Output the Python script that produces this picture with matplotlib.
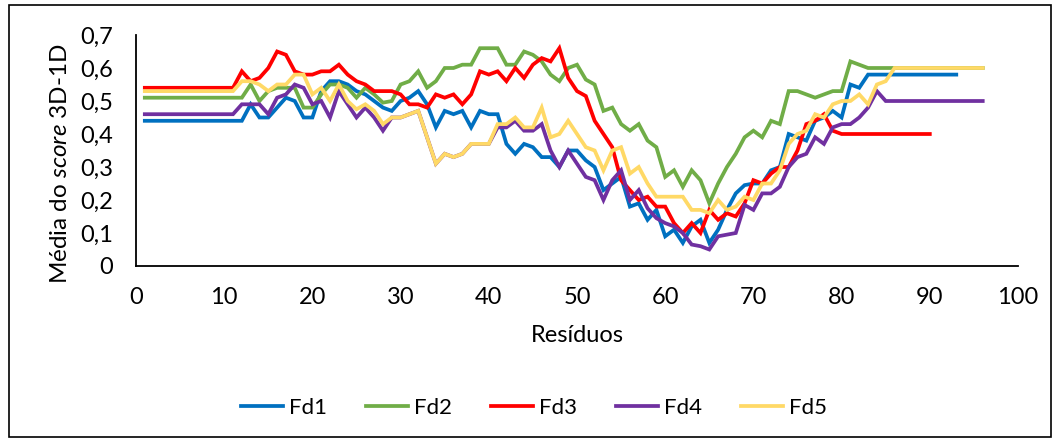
import numpy as np
import matplotlib
matplotlib.use("Agg")
import matplotlib.pyplot as plt
from matplotlib.patches import Rectangle

plt.rcParams['font.family'] = ['Lato', 'DejaVu Sans']
plt.rcParams['mathtext.fontset'] = 'custom'
plt.rcParams['mathtext.rm'] = 'Lato'
plt.rcParams['mathtext.it'] = 'Lato:italic'

# média do score 3D-1D por resíduo (resíduo 1 em diante)
fd1 = [0.44, 0.44, 0.44, 0.44, 0.44, 0.44, 0.44, 0.44, 0.44, 0.44,
       0.44, 0.44, 0.49, 0.45, 0.45, 0.48, 0.51, 0.50, 0.45, 0.45,
       0.53, 0.56, 0.56, 0.55, 0.53, 0.52, 0.50, 0.48, 0.47, 0.50,
       0.51, 0.53, 0.49, 0.42, 0.47, 0.46, 0.47, 0.42, 0.47, 0.46,
       0.46, 0.37, 0.34, 0.37, 0.36, 0.33, 0.33, 0.30, 0.35, 0.35,
       0.32, 0.30, 0.23, 0.25, 0.27, 0.18, 0.19, 0.14, 0.17, 0.09,
       0.11, 0.07, 0.12, 0.14, 0.07, 0.11, 0.17, 0.22, 0.245, 0.25,
       0.25, 0.29, 0.30, 0.40, 0.39, 0.38, 0.44, 0.45, 0.47, 0.45,
       0.55, 0.54, 0.58, 0.58, 0.58, 0.58, 0.58, 0.58, 0.58, 0.58,
       0.58, 0.58, 0.58]

fd2 = [0.51, 0.51, 0.51, 0.51, 0.51, 0.51, 0.51, 0.51, 0.51, 0.51,
       0.51, 0.51, 0.55, 0.50, 0.53, 0.54, 0.54, 0.54, 0.48, 0.48,
       0.52, 0.55, 0.55, 0.54, 0.51, 0.54, 0.52, 0.495, 0.50, 0.55,
       0.56, 0.59, 0.54, 0.56, 0.60, 0.60, 0.61, 0.61, 0.66, 0.66,
       0.66, 0.61, 0.61, 0.65, 0.64, 0.62, 0.58, 0.56, 0.60, 0.61,
       0.565, 0.55, 0.47, 0.48, 0.43, 0.41, 0.43, 0.38, 0.36, 0.27,
       0.29, 0.24, 0.29, 0.26, 0.19, 0.25, 0.30, 0.34, 0.39, 0.41,
       0.39, 0.44, 0.43, 0.53, 0.53, 0.52, 0.51, 0.52, 0.53, 0.53,
       0.62, 0.61, 0.60, 0.60, 0.60, 0.60, 0.60, 0.60, 0.60, 0.60,
       0.60, 0.60, 0.60, 0.60, 0.60, 0.60]

fd3 = [0.54, 0.54, 0.54, 0.54, 0.54, 0.54, 0.54, 0.54, 0.54, 0.54,
       0.54, 0.59, 0.56, 0.57, 0.60, 0.65, 0.64, 0.59, 0.58, 0.58,
       0.59, 0.59, 0.61, 0.58, 0.56, 0.55, 0.53, 0.53, 0.53, 0.52,
       0.49, 0.49, 0.48, 0.52, 0.51, 0.52, 0.49, 0.52, 0.59, 0.58,
       0.59, 0.56, 0.60, 0.57, 0.61, 0.63, 0.62, 0.66, 0.57, 0.53,
       0.515, 0.44, 0.40, 0.36, 0.26, 0.23, 0.20, 0.21, 0.18, 0.18,
       0.13, 0.10, 0.13, 0.10, 0.17, 0.14, 0.16, 0.15, 0.19, 0.26,
       0.25, 0.28, 0.30, 0.30, 0.35, 0.43, 0.44, 0.46, 0.41, 0.40,
       0.40, 0.40, 0.40, 0.40, 0.40, 0.40, 0.40, 0.40, 0.40, 0.40]

fd4 = [0.46, 0.46, 0.46, 0.46, 0.46, 0.46, 0.46, 0.46, 0.46, 0.46,
       0.46, 0.49, 0.49, 0.49, 0.46, 0.51, 0.52, 0.55, 0.54, 0.49,
       0.50, 0.45, 0.53, 0.49, 0.45, 0.48, 0.45, 0.41, 0.45, 0.45,
       0.46, 0.47, 0.39, 0.31, 0.34, 0.33, 0.34, 0.37, 0.37, 0.37,
       0.42, 0.42, 0.44, 0.41, 0.41, 0.43, 0.35, 0.30, 0.35, 0.31,
       0.27, 0.26, 0.20, 0.26, 0.29, 0.20, 0.23, 0.175, 0.145, 0.13,
       0.12, 0.10, 0.065, 0.06, 0.05, 0.09, 0.095, 0.10, 0.185, 0.17,
       0.22, 0.22, 0.24, 0.30, 0.33, 0.34, 0.39, 0.37, 0.42, 0.43,
       0.43, 0.45, 0.48, 0.53, 0.50, 0.50, 0.50, 0.50, 0.50, 0.50,
       0.50, 0.50, 0.50, 0.50, 0.50, 0.50]

fd5 = [0.53, 0.53, 0.53, 0.53, 0.53, 0.53, 0.53, 0.53, 0.53, 0.53,
       0.53, 0.56, 0.56, 0.55, 0.53, 0.55, 0.55, 0.58, 0.58, 0.52,
       0.54, 0.50, 0.55, 0.50, 0.475, 0.49, 0.47, 0.43, 0.45, 0.45,
       0.46, 0.47, 0.39, 0.31, 0.34, 0.33, 0.34, 0.37, 0.37, 0.37,
       0.43, 0.43, 0.45, 0.42, 0.42, 0.48, 0.39, 0.40, 0.44, 0.40,
       0.36, 0.35, 0.29, 0.35, 0.36, 0.28, 0.30, 0.25, 0.21, 0.21,
       0.21, 0.21, 0.17, 0.17, 0.16, 0.20, 0.17, 0.18, 0.21, 0.20,
       0.25, 0.25, 0.29, 0.37, 0.40, 0.41, 0.46, 0.45, 0.49, 0.50,
       0.50, 0.52, 0.49, 0.55, 0.56, 0.60, 0.60, 0.60, 0.60, 0.60,
       0.60, 0.60, 0.60, 0.60, 0.60, 0.60]

series = [("Fd1", fd1, "#0070C0"),
          ("Fd2", fd2, "#70AD47"),
          ("Fd3", fd3, "#FF0000"),
          ("Fd4", fd4, "#7030A0"),
          ("Fd5", fd5, "#FFD966")]

x_ticks = [0, 10, 20, 30, 40, 50, 60, 70, 80, 90, 100]
y_ticks = [0, 0.1, 0.2, 0.3, 0.4, 0.5, 0.6, 0.7]
y_tick_labels = ["0", "0,1", "0,2", "0,3", "0,4", "0,5", "0,6", "0,7"]

W, H = 1059, 441
fig = plt.figure(figsize=(W / 100, H / 100), dpi=100)
ax = fig.add_axes([136 / W, (H - 266) / H, (1018 - 136) / W, (266 - 35) / H])

for name, vals, color in series:
    res = np.arange(1, len(vals) + 1)
    ax.plot(res, vals, color=color, lw=2.7, label=name, solid_joinstyle='miter')

ax.set_xlim(0, 100)
ax.set_ylim(0, 0.7)
ax.set_xticks(x_ticks)
ax.set_yticks(y_ticks)
ax.set_yticklabels(y_tick_labels)
ax.tick_params(axis='both', length=0, labelsize=17, colors='black')
ax.tick_params(axis='x', pad=15)
ax.tick_params(axis='y', pad=16.5)

for side in ['top', 'right']:
    ax.spines[side].set_visible(False)
for side in ['left', 'bottom']:
    ax.spines[side].set_color('black')
    ax.spines[side].set_linewidth(1.3)

ax.set_xlabel("Resíduos", fontsize=17, labelpad=12)
ax.set_ylabel("Média do $\\it{score}$ 3D-1D", fontsize=17.5)
ax.yaxis.set_label_coords(-0.074, 0.445)

fig.legend(loc='center', bbox_to_anchor=(534 / W, 1 - 408 / H), ncol=5,
           frameon=False, fontsize=16, handlelength=1.9, handletextpad=0.27,
           columnspacing=1.75)

# moldura do gráfico
fig.patches.append(Rectangle((9 / W, 4 / H), (1051 - 9) / W, (436 - 4) / H,
                             transform=fig.transFigure, fill=False,
                             edgecolor='black', linewidth=1.2))

fig.savefig("out.png", dpi=100)
